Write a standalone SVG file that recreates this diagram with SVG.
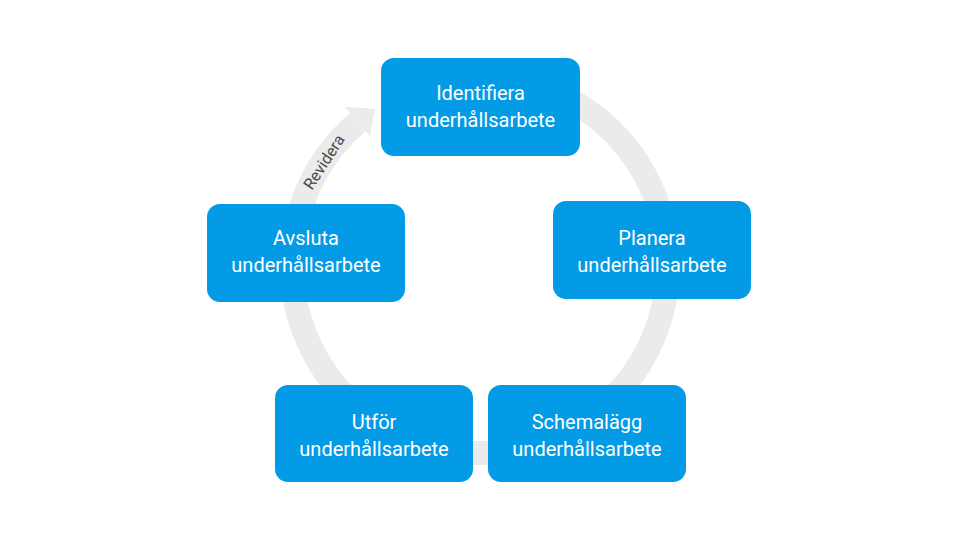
<svg xmlns="http://www.w3.org/2000/svg" width="960" height="540" viewBox="0 0 960 540">
<style>
.box{fill:#039be5;}
.lbl{font-family:Roboto,"Liberation Sans",sans-serif;font-size:20px;fill:#ffffff;text-anchor:middle;}
.ring{fill:none;stroke:#ebebeb;stroke-width:24;}
.rev{font-family:Roboto,"Liberation Sans",sans-serif;font-size:16px;fill:#4a4a4a;text-anchor:middle;}
</style>
<rect width="960" height="540" fill="#ffffff"/>
<g id="connectors">
<path class="ring" d="M 512.6 79.9 A 188 188 0 1 1 357.9 122.0"/>
<polygon points="345,106.8 375,109 370,136" fill="#ebebeb"/>
<text class="rev" transform="translate(324,162) rotate(-57)" y="5.5">Revidera</text>
</g>
<g id="n1">
<rect class="box" x="381" y="58" width="199" height="98" rx="13"/>
<text class="lbl" x="480.5" y="100">Identifiera</text>
<text class="lbl" x="480.5" y="127">underhållsarbete</text>
</g>
<g id="n2">
<rect class="box" x="553" y="201" width="198" height="98" rx="13"/>
<text class="lbl" x="652" y="245">Planera</text>
<text class="lbl" x="652" y="272">underhållsarbete</text>
</g>
<g id="n3">
<rect class="box" x="488" y="385" width="198" height="97" rx="13"/>
<text class="lbl" x="587" y="429">Schemalägg</text>
<text class="lbl" x="587" y="456">underhållsarbete</text>
</g>
<g id="n4">
<rect class="box" x="275" y="385" width="198" height="97" rx="13"/>
<text class="lbl" x="374" y="429">Utför</text>
<text class="lbl" x="374" y="456">underhållsarbete</text>
</g>
<g id="n5">
<rect class="box" x="207" y="204" width="198" height="98" rx="13"/>
<text class="lbl" x="306" y="245">Avsluta</text>
<text class="lbl" x="306" y="272">underhållsarbete</text>
</g>
</svg>
